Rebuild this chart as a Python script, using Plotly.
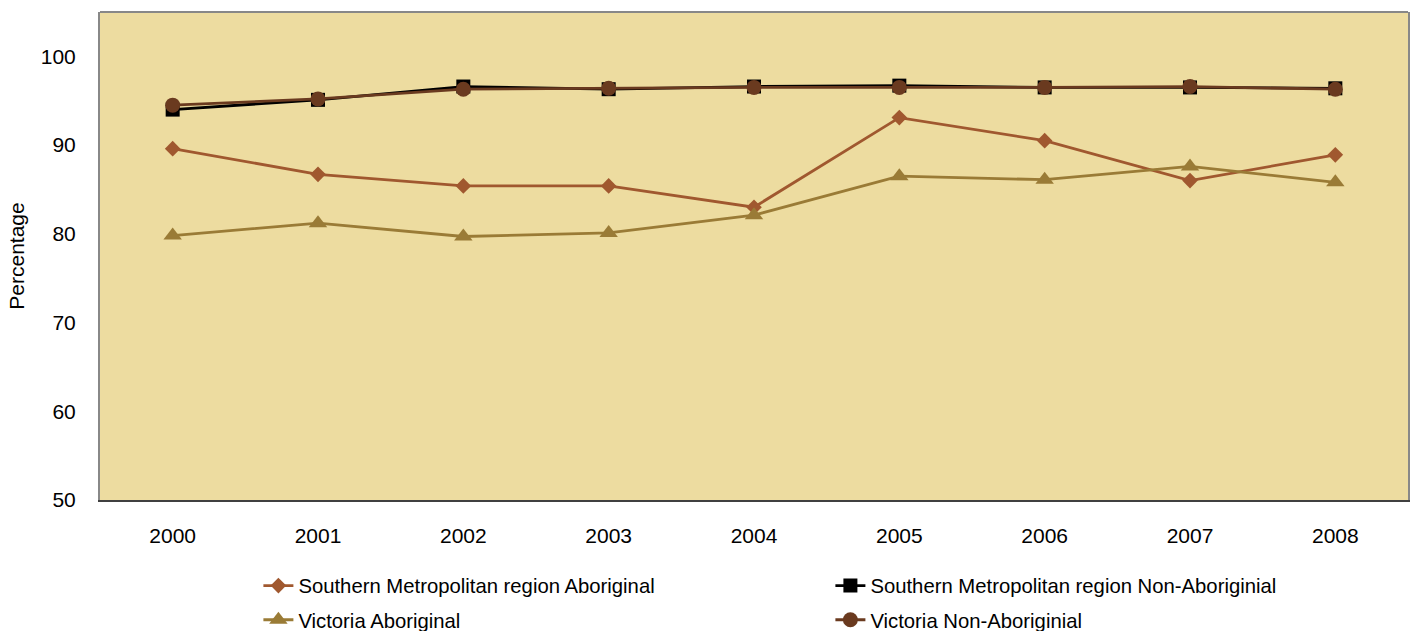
import plotly.graph_objects as go

years = ["2000", "2001", "2002", "2003", "2004", "2005", "2006", "2007", "2008"]
sm_aboriginal = [89.6, 86.7, 85.4, 85.4, 83.0, 93.1, 90.5, 86.0, 88.9]
sm_non_aboriginal = [94.0, 95.1, 96.6, 96.3, 96.6, 96.7, 96.5, 96.5, 96.4]
vic_aboriginal = [79.8, 81.2, 79.7, 80.1, 82.1, 86.5, 86.1, 87.6, 85.8]
vic_non_aboriginal = [94.5, 95.2, 96.3, 96.4, 96.5, 96.5, 96.5, 96.6, 96.3]

FONT = "Liberation Sans, Arial, sans-serif"

fig = go.Figure()
fig.add_trace(go.Scatter(
    x=years, y=sm_aboriginal, mode="lines+markers",
    name="Southern Metropolitan region Aboriginal",
    line=dict(color="#A0582F", width=2.8),
    marker=dict(symbol="diamond", size=12, color="#A0582F"),
    legend="legend",
))
fig.add_trace(go.Scatter(
    x=years, y=sm_non_aboriginal, mode="lines+markers",
    name="Southern Metropolitan region Non-Aboriginial",
    line=dict(color="#000000", width=2.8),
    marker=dict(symbol="square", size=14, color="#000000"),
    legend="legend",
))
fig.add_trace(go.Scatter(
    x=years, y=vic_aboriginal, mode="lines+markers",
    name="Victoria Aboriginal",
    line=dict(color="#9A7B36", width=2.8),
    marker=dict(symbol="triangle-up", size=16, color="#9A7B36"),
    legend="legend2",
))
fig.add_trace(go.Scatter(
    x=years, y=vic_non_aboriginal, mode="lines+markers",
    name="Victoria Non-Aboriginial",
    line=dict(color="#6A3A1F", width=2.8),
    marker=dict(symbol="circle", size=15, color="#6A3A1F"),
    legend="legend2",
))

legend_common = dict(
    orientation="h",
    x=0.1211, xanchor="left",
    yanchor="top",
    entrywidth=527, entrywidthmode="pixels",
    font=dict(size=20.3),
    bgcolor="rgba(0,0,0,0)",
)

fig.update_layout(
    width=1415, height=631,
    margin=dict(l=100, r=7, t=12, b=131, autoexpand=False),
    paper_bgcolor="white",
    plot_bgcolor="#EDDCA0",
    font=dict(family=FONT, size=21, color="black"),
    showlegend=True,
    legend=dict(legend_common, y=-0.135),
    legend2=dict(legend_common, y=-0.205),
    xaxis=dict(
        type="category",
        range=[-0.5, 8.5],
        automargin=False,
        showgrid=False, zeroline=False,
        showline=True, linecolor="#404040", linewidth=2,
        ticks="outside", ticklen=16, tickcolor="rgba(0,0,0,0)",
        tickfont=dict(size=21),
    ),
    yaxis=dict(
        range=[50, 105],
        tickvals=[50, 60, 70, 80, 90, 100],
        automargin=False,
        showgrid=False, zeroline=False,
        showline=True, linecolor="#888888", linewidth=2, mirror=True,
        ticks="outside", ticklen=18, tickcolor="rgba(0,0,0,0)",
        tickfont=dict(size=21),
        title=dict(text="Percentage", font=dict(size=21), standoff=10),
    ),
    shapes=[dict(
        type="line", xref="paper", yref="paper",
        x0=0, x1=1, y0=1, y1=1,
        line=dict(color="#888888", width=2), layer="above",
    )],
)

fig.write_html(
    "out.html",
    config={"displayModeBar": False},
    post_script="document.body.style.margin='0';document.body.style.overflow='hidden';",
)
